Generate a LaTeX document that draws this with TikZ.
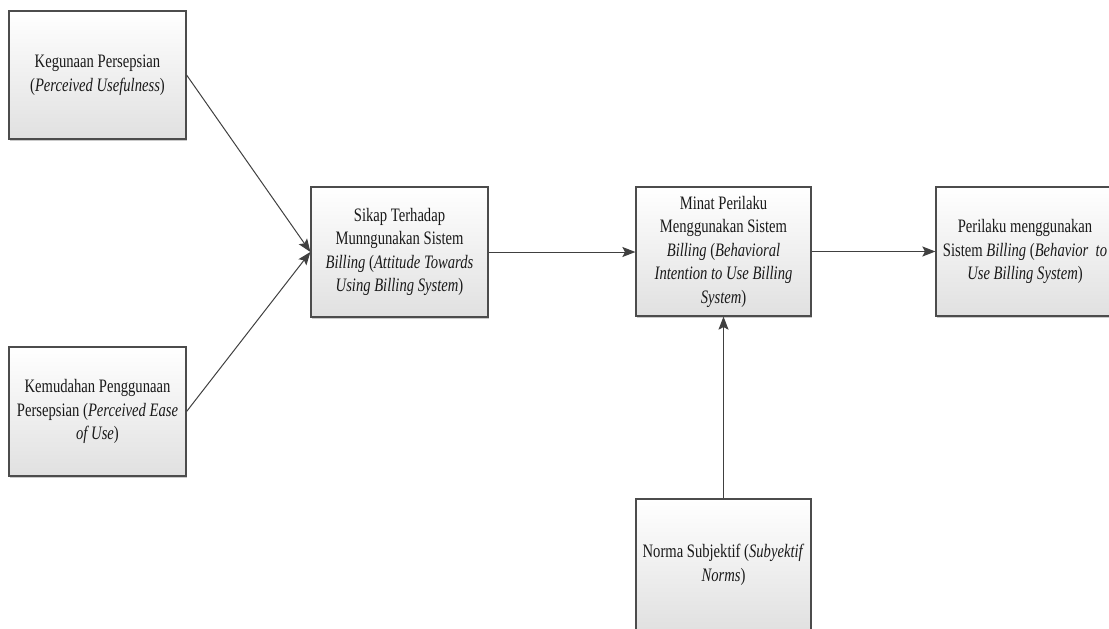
\documentclass[tikz,border=0pt]{standalone}
\usepackage{fontspec}
\setmainfont{Liberation Serif}[FakeStretch=0.77]
\usetikzlibrary{arrows.meta,shadows}

\tikzset{
  concept/.style={
    draw=black!70, line width=1.2pt,
    top color=white, bottom color=black!12,
    drop shadow={shadow xshift=1.2pt, shadow yshift=-1.6pt, opacity=0.35, fill=black!60},
    align=center, inner sep=0pt,
    font=\fontsize{19}{23.5}\selectfont, text=black!90
  },
  link/.style={
    draw=black!75, line width=1pt,
    -{Stealth[length=13pt, width=10pt, inset=2.5pt]}
  }
}

\begin{document}
\begin{tikzpicture}[x=1pt, y=-1pt]
  \useasboundingbox (0,0) rectangle (1109,629);

  % constructs of the acceptance model
  \node[concept, minimum width=177pt, minimum height=128pt] (pu) at (97.5,75)
    {Kegunaan Persepsian\\(\textit{Perceived Usefulness})};
  \node[concept, minimum width=177pt, minimum height=129pt] (peou) at (97.5,411.5)
    {Kemudahan Penggunaan\\Persepsian (\textit{Perceived Ease}\\\textit{of Use})};
  \node[concept, minimum width=177pt, minimum height=130pt] (att) at (399.5,252)
    {Sikap Terhadap\\Munngunakan Sistem\\\textit{Billing} (\textit{Attitude Towards}\\\textit{Using Billing System})};
  \node[concept, minimum width=175pt, minimum height=129pt] (bi) at (723.5,251.5)
    {Minat Perilaku\\Menggunakan Sistem\\\textit{Billing} (\textit{Behavioral}\\\textit{Intention to Use Billing}\\\textit{System})};
  \node[concept, minimum width=178pt, minimum height=129pt] (use) at (1025,251.5)
    {Perilaku menggunakan\\Sistem \textit{Billing} (\textit{Behavior\ \ to}\\\textit{Use Billing System})};
  \node[concept, minimum width=175pt, minimum height=132pt] (sn) at (723.5,565)
    {Norma Subjektif (\textit{Subyektif}\\\textit{Norms})};

  % relations
  \draw[link] (pu.east) -- (att.west);
  \draw[link] (peou.east) -- (att.west);
  \draw[link] (att.east) -- (bi.west |- att.east);
  \draw[link] (bi.east) -- (use.west);
  \draw[link] (sn.north) -- (bi.south);
\end{tikzpicture}
\end{document}
